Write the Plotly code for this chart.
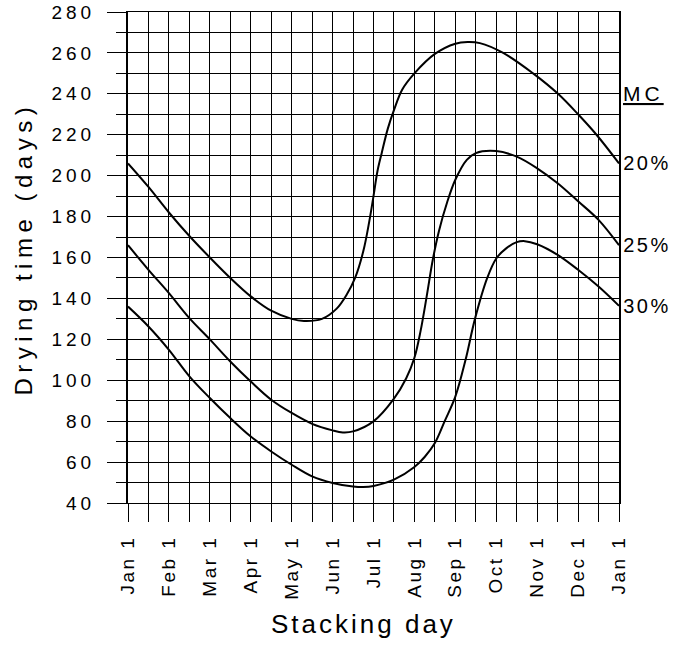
import plotly.graph_objects as go

# ---- data (x = months after Jan 1, y = drying time in days) ----
month_pos = list(range(13))
month_labels = ["Jan 1", "Feb 1", "Mar 1", "Apr 1", "May 1", "Jun 1", "Jul 1",
                "Aug 1", "Sep 1", "Oct 1", "Nov 1", "Dec 1", "Jan 1"]

mc20_month = [0, 0.5, 1, 1.5, 2, 2.5, 3, 3.5, 4, 4.3, 4.74, 5.1, 5.35, 5.55, 5.75,
              5.9, 6.0, 6.1, 6.2, 6.35, 6.5, 6.7, 7.0, 7.5, 8.0, 8.3, 8.6, 9.17, 9.9,
              10.51, 11, 11.45, 12]
mc20_days = [206, 194.5, 182, 170.5, 160, 150, 141, 134, 130, 129, 130, 135, 142,
             150, 163, 178, 190, 202.5, 211, 223, 232, 242, 250, 259.5, 264.5, 265.3,
             264.8, 260, 250, 240, 230, 220, 206]

mc25_month = [0, 0.5, 1, 1.5, 2, 2.5, 3, 3.5, 4, 4.5, 5, 5.25, 5.5, 6, 6.5, 6.8, 7.0,
              7.15, 7.3, 7.45, 7.6, 7.8, 8.0, 8.28, 8.5, 9, 9.5, 10, 10.5, 11, 11.5, 12]
mc25_days = [166, 154, 142.6, 130.4, 120, 109.2, 99.4, 90.5, 84, 78.7, 75.5, 74.5,
             75, 79.9, 91, 101, 111, 124, 141, 159, 173, 187, 198, 207.7, 211, 212,
             209.3, 203.6, 196.3, 187.5, 178.4, 166]

mc30_month = [0, 0.5, 1, 1.5, 2, 2.5, 3, 3.5, 4, 4.5, 5, 5.5, 5.75, 6, 6.5, 7, 7.25,
              7.5, 7.74, 8.0, 8.25, 8.48, 8.78, 9.0, 9.25, 9.5, 9.7, 10, 10.5, 11,
              11.5, 12]
mc30_days = [136, 126.3, 114.9, 101.9, 91.3, 81.5, 72.5, 65.2, 58.7, 53, 49.8, 48.1,
             47.8, 48.3, 51.4, 57.6, 62.5, 69.3, 80, 92, 110, 130, 150, 159.5, 164.6,
             167.5, 168, 166.5, 161.3, 154, 145.8, 136.4]

series_names = ["20%", "25%", "30%"]
series_x = [mc20_month, mc25_month, mc30_month]
series_y = [mc20_days, mc25_days, mc30_days]

FONT = "Liberation Sans, Arial, sans-serif"

fig = go.Figure()
for name, xs, ys in zip(series_names, series_x, series_y):
    fig.add_trace(go.Scatter(
        x=xs, y=ys, mode="lines", name=name, showlegend=False, hoverinfo="skip",
        line=dict(color="black", width=2, shape="spline", smoothing=1.0)))

annotations = []
for name, xs, ys in zip(series_names, series_x, series_y):
    annotations.append(dict(x=xs[-1], y=ys[-1], xref="x", yref="y", text=name,
                            showarrow=False, xanchor="left", yanchor="middle", xshift=6,
                            font=dict(size=20, color="black", family=FONT)))
annotations.append(dict(x=12, y=240, xref="x", yref="y", text="<u>MC</u>",
                        showarrow=False, xanchor="left", yanchor="middle", xshift=6,
                        font=dict(size=21, color="black", family=FONT)))
annotations.append(dict(x=-0.213, y=0.518, xref="paper", yref="paper",
                        text="Drying time (days)", textangle=-90, showarrow=False,
                        xanchor="center", yanchor="middle",
                        font=dict(size=24, color="black", family=FONT)))
annotations.append(dict(x=0.4797, y=-0.2457, xref="paper", yref="paper",
                        text="Stacking day", showarrow=False,
                        xanchor="center", yanchor="middle",
                        font=dict(size=26, color="black", family=FONT)))

fig.update_layout(
    template="none",
    width=689, height=645,
    margin=dict(l=128, r=70, t=12, b=142, autoexpand=False),
    paper_bgcolor="white", plot_bgcolor="white",
    font=dict(family=FONT, color="black"),
    annotations=annotations,
    xaxis=dict(
        automargin=False,
        range=[0, 12], tickmode="array", tickvals=month_pos, ticktext=month_labels,
        tickangle=-90, ticks="outside", ticklen=18, tickwidth=1, tickcolor="black",
        ticklabelstandoff=6,
        tickfont=dict(size=19, color="black", family=FONT),
        showgrid=True, gridcolor="black", gridwidth=1,
        showline=True, linecolor="black", linewidth=1, mirror=True, zeroline=False,
        minor=dict(dtick=0.5, tick0=0, ticks="outside", ticklen=18, tickwidth=1,
                   tickcolor="black", showgrid=True, gridcolor="black", gridwidth=1),
    ),
    yaxis=dict(
        automargin=False,
        range=[40, 280], tick0=40, dtick=20, ticks="outside", ticklen=19, tickwidth=1,
        tickcolor="black", ticklabelstandoff=8,
        tickfont=dict(size=19, color="black", family=FONT),
        showgrid=True, gridcolor="black", gridwidth=1,
        showline=True, linecolor="black", linewidth=2, mirror=True, zeroline=False,
        minor=dict(dtick=10, tick0=40, ticks="outside", ticklen=10, tickwidth=1,
                   tickcolor="black", showgrid=True, gridcolor="black", gridwidth=1),
    ),
)

post = """
document.body.style.margin='0';
var gd = document.getElementById('{plot_id}');
function sp(){
  gd.querySelectorAll('.xtick text').forEach(function(t){t.style.letterSpacing='2.5px';});
  gd.querySelectorAll('.ytick text').forEach(function(t){t.style.letterSpacing='4px';});
  gd.querySelectorAll('.annotation-text').forEach(function(t){
    var s = t.textContent, v = '2.5px';
    if (s.indexOf('Drying') >= 0) v = '5.5px';
    else if (s.indexOf('Stacking') >= 0) v = '3px';
    else if (s === 'MC') v = '4px';
    t.style.letterSpacing = v;
  });
}
sp();
gd.on('plotly_afterplot', sp);
"""

fig.write_html("out.html", post_script=post, config={"displayModeBar": False})
